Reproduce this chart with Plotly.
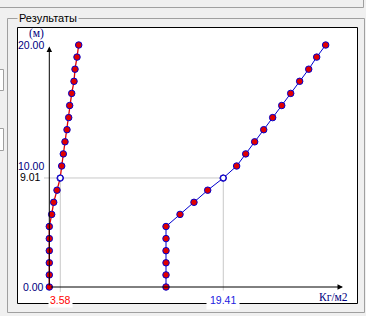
import plotly.graph_objects as go

# ---------------- data ----------------
DEPTH = [0, 1, 2, 3, 4, 5, 6, 7, 8, 9, 10, 11, 12, 13, 14, 15, 16, 17, 18, 19, 20]
RED_X = [0, 0, 0, 0, 0, 0, 0.78, 1.43, 2.51, 3.55, 4.04, 4.56, 5.11, 5.77, 6.32,
         6.64, 7.30, 8.05, 8.37, 9.02, 9.58]
BLUE_X = [13.02, 13.02, 13.02, 13.02, 13.02, 13.02, 14.58, 16.14, 17.67, 19.40, 20.90,
          21.91, 22.91, 23.92, 24.92, 25.93, 26.93, 27.93, 28.94, 29.83, 30.83]
MARK_DEPTH = 9.01
MARK_RED = 3.58
MARK_BLUE = 19.41
Y_TICKS = [0, 10, 20]
Y_TICK_TEXT = ["0.00", "10.00", "20.00"]
Y_UNIT = "(м)"
X_UNIT = "Кг/м2"
TITLE = "Результаты"

# ---------------- geometry ----------------
W, H = 366, 316
PL, PR, PT, PB = 40, 350, 38, 300          # plot area in pixels
Y0_PX, Y_SCALE = 287.0, 12.1               # y=0 pixel, px per metre
X0_PX = 49.3                               # x=0 pixel
RED_SCALE, BLUE_SCALE = 3.07, 8.964        # px per unit

y_range = [-(PB - Y0_PX) / Y_SCALE, (Y0_PX - PT) / Y_SCALE]
red_range = [-(X0_PX - PL) / RED_SCALE, (PR - X0_PX) / RED_SCALE]
blue_range = [-(X0_PX - PL) / BLUE_SCALE, (PR - X0_PX) / BLUE_SCALE]


def px(X):
    return (X - PL) / (PR - PL)


def py(Y):
    return (PB - Y) / (PB - PT)


def red_of(X):
    return (X - X0_PX) / RED_SCALE


def blue_of(X):
    return (X - X0_PX) / BLUE_SCALE


def ydat(Y):
    return (Y0_PX - Y) / Y_SCALE


RED = "#e00000"
BLUE = "#0000d0"
NAVY = "#000080"
FRAME = "#a0a0a0"
GUIDE = "#c8c8c8"
SANS = "Liberation Sans, Arial, sans-serif"
SERIF = "Liberation Serif, Times New Roman, serif"

fig = go.Figure()

marker = dict(size=6.5, color=RED, line=dict(color=BLUE, width=1), symbol="circle")

fig.add_trace(go.Scatter(x=RED_X, y=DEPTH, xaxis="x", yaxis="y", mode="lines+markers",
                         line=dict(color=RED, width=1.3), marker=marker,
                         cliponaxis=False, hoverinfo="skip", showlegend=False))
fig.add_trace(go.Scatter(x=BLUE_X, y=DEPTH, xaxis="x2", yaxis="y", mode="lines+markers",
                         line=dict(color=BLUE, width=1), marker=marker,
                         cliponaxis=False, hoverinfo="skip", showlegend=False))
hollow = dict(size=5.5, color="white", line=dict(color=BLUE, width=1), symbol="circle")
fig.add_trace(go.Scatter(x=[MARK_RED], y=[MARK_DEPTH], xaxis="x", yaxis="y", mode="markers",
                         marker=hollow, cliponaxis=False, hoverinfo="skip", showlegend=False))
fig.add_trace(go.Scatter(x=[MARK_BLUE], y=[MARK_DEPTH], xaxis="x2", yaxis="y", mode="markers",
                         marker=hollow, cliponaxis=False, hoverinfo="skip", showlegend=False))

shapes = []
# window chrome
shapes.append(dict(type="line", xref="paper", yref="paper", x0=px(-2), x1=px(363.5),
                   y0=py(7.5), y1=py(7.5), line=dict(color=FRAME, width=1), layer="below"))
shapes.append(dict(type="line", xref="paper", yref="paper", x0=px(363.5), x1=px(363.5),
                   y0=py(-2), y1=py(7.5), line=dict(color=FRAME, width=1), layer="below"))
shapes.append(dict(type="rect", xref="paper", yref="paper", x0=px(7.5), x1=px(364.5),
                   y0=py(18.5), y1=py(312.5), line=dict(color=FRAME, width=1), layer="below"))
for top, bot in [(69.5, 90.5), (128.5, 150.5)]:
    shapes.append(dict(type="rect", xref="paper", yref="paper", x0=px(-6), x1=px(3.5),
                       y0=py(top), y1=py(bot), fillcolor="white",
                       line=dict(color=FRAME, width=1), layer="below"))
# white panel
shapes.append(dict(type="rect", xref="paper", yref="paper", x0=px(17.5), x1=px(357.5),
                   y0=py(27.5), y1=py(303.5), fillcolor="white",
                   line=dict(color="black", width=1), layer="below"))
# guide lines
shapes.append(dict(type="line", xref="x2", yref="y", x0=blue_of(44), x1=MARK_BLUE,
                   y0=MARK_DEPTH, y1=MARK_DEPTH, line=dict(color=GUIDE, width=1), layer="below"))
shapes.append(dict(type="line", xref="x", yref="y", x0=MARK_RED, x1=MARK_RED,
                   y0=MARK_DEPTH, y1=ydat(292), line=dict(color=GUIDE, width=1), layer="below"))
shapes.append(dict(type="line", xref="x2", yref="y", x0=MARK_BLUE, x1=MARK_BLUE,
                   y0=MARK_DEPTH, y1=ydat(292), line=dict(color=GUIDE, width=1), layer="below"))

annotations = []
# axes with arrowheads
annotations.append(dict(xref="x", yref="y", axref="x", ayref="y", x=0, y=ydat(46.5),
                        ax=0, ay=0, text="", showarrow=True, arrowhead=2, arrowsize=1.1,
                        arrowwidth=1, arrowcolor="black", standoff=0, startstandoff=0))
annotations.append(dict(xref="x", yref="y", axref="x", ayref="y", x=red_of(343), y=0,
                        ax=0, ay=0, text="", showarrow=True, arrowhead=2, arrowsize=1.1,
                        arrowwidth=1, arrowcolor="black", standoff=0, startstandoff=0))
# y tick labels
for v, t in zip(Y_TICKS, Y_TICK_TEXT):
    annotations.append(dict(xref="x", yref="y", x=0, y=v, text=t, showarrow=False,
                            xanchor="right", yanchor="middle", xshift=-3.5,
                            font=dict(family=SANS, size=10.5, color=NAVY)))
annotations.append(dict(xref="x", yref="y", x=0, y=MARK_DEPTH, text=f"{MARK_DEPTH:.2f}",
                        showarrow=False, xanchor="right", yanchor="middle", xshift=-6,
                        yshift=1, font=dict(family=SANS, size=10.5, color="black")))
annotations.append(dict(xref="x", yref="y", x=0, y=Y_TICKS[-1], text=Y_UNIT, showarrow=False,
                        xanchor="right", yanchor="middle", xshift=-3, yshift=12,
                        font=dict(family=SERIF, size=11.5, color=NAVY)))
annotations.append(dict(xref="x", yref="y", x=red_of(349.5), y=0, text=X_UNIT, showarrow=False,
                        xanchor="right", yanchor="middle", yshift=-10,
                        font=dict(family=SERIF, size=11.5, color=NAVY)))
# marker value labels
annotations.append(dict(xref="x", yref="y", x=MARK_RED, y=0, text=f"{MARK_RED:.2f}",
                        showarrow=False, xanchor="center", yanchor="middle", yshift=-12.5,
                        bgcolor="white", borderpad=1,
                        font=dict(family=SANS, size=10.5, color="#ff0000")))
annotations.append(dict(xref="x2", yref="y", x=MARK_BLUE, y=0, text=f"{MARK_BLUE:.2f}",
                        showarrow=False, xanchor="center", yanchor="middle", yshift=-12.5,
                        bgcolor="white", borderpad=3,
                        font=dict(family=SANS, size=10.5, color="#2020e0")))
# group box title
annotations.append(dict(xref="paper", yref="paper", x=px(16.5), y=py(18.5), text=TITLE,
                        showarrow=False, xanchor="left", yanchor="middle", bgcolor="#f0f0f0",
                        borderpad=1, font=dict(family=SANS, size=11, color="black")))

fig.update_layout(
    width=W, height=H,
    margin=dict(l=PL, r=W - PR, t=PT, b=H - PB, pad=0, autoexpand=False),
    paper_bgcolor="#f0f0f0", plot_bgcolor="rgba(0,0,0,0)",
    xaxis=dict(range=red_range, visible=False, fixedrange=True),
    xaxis2=dict(range=blue_range, visible=False, overlaying="x", fixedrange=True),
    yaxis=dict(range=y_range, visible=False, fixedrange=True),
    shapes=shapes, annotations=annotations, showlegend=False,
)

fig.write_html("out.html", config={"displayModeBar": False})
